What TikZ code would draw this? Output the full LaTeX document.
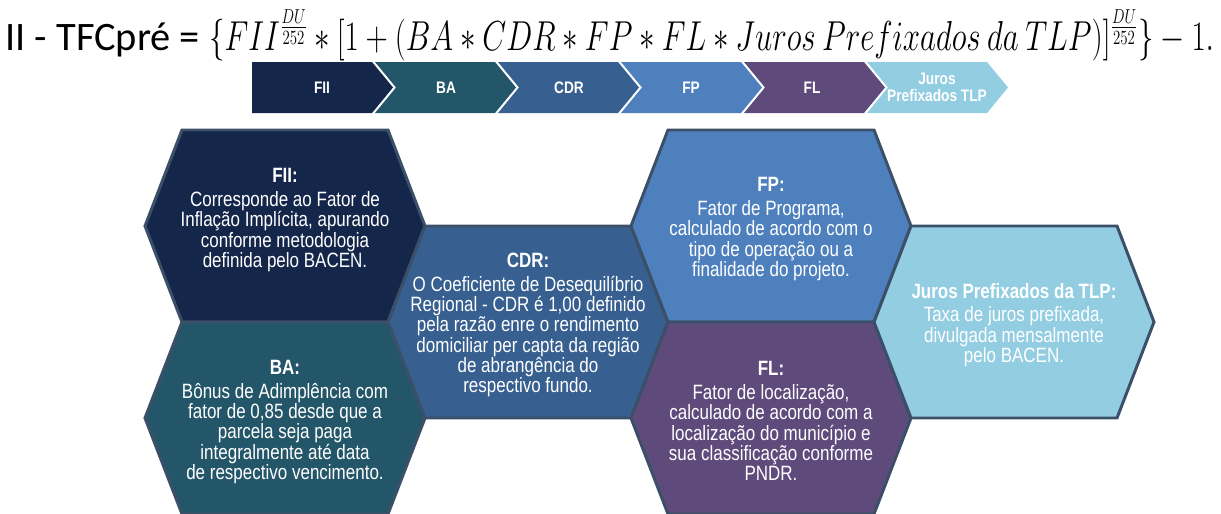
\documentclass[tikz,border=0pt]{standalone}
\usepackage{amsmath}
\usepackage[no-math]{fontspec}
\setmainfont{Liberation Sans}[FakeStretch=0.82]
\newfontfamily\calfont{Carlito}
\usepackage{graphicx}
\usepackage{xcolor}
\usepackage{tikz}

\definecolor{fiicol}{HTML}{14264A}
\definecolor{bacol}{HTML}{245669}
\definecolor{cdrcol}{HTML}{375F8F}
\definecolor{fpcol}{HTML}{4E80BE}
\definecolor{flcol}{HTML}{5F4A7C}
\definecolor{juroscol}{HTML}{92CDE2}
\definecolor{edgecol}{HTML}{3B5068}

\begin{document}
\begin{tikzpicture}[x=0.02cm, y=-0.02cm,
hexa/.style={draw=edgecol, line width=1.7pt},
chev/.style={draw=none},
txt/.style={align=center, text=white, inner sep=0, font=\fontsize{11.8}{11.6}\selectfont},
chevtxt/.style={align=center, text=white, inner sep=0, font=\bfseries\fontsize{9.5}{9.5}\selectfont}
]
\useasboundingbox (0,0) rectangle (1221,514);

\node[anchor=base west, inner sep=0] (formula) at (5,50) {\calfont\fontsize{23}{24}\selectfont II - TFCpré = \resizebox{572pt}{23pt}{$\{FII^{\frac{DU}{252}} \ast [1 + (BA \ast CDR \ast FP \ast FL \ast Juros\ Prefixados\ da\ TLP)]^{\frac{DU}{252}}\} - 1.$}};

\draw[chev, fill=fiicol] (252,62) -- ++(120,0) -- ++(21,25.5) -- ++(-21,25.5) -- ++(-120,0) -- cycle;
\draw[chev, fill=bacol] (375,62) -- ++(120,0) -- ++(21,25.5) -- ++(-21,25.5) -- ++(-120,0) -- ++(21,-25.5) -- cycle;
\draw[chev, fill=cdrcol] (498,62) -- ++(120,0) -- ++(21,25.5) -- ++(-21,25.5) -- ++(-120,0) -- ++(21,-25.5) -- cycle;
\draw[chev, fill=fpcol] (621,62) -- ++(120,0) -- ++(21,25.5) -- ++(-21,25.5) -- ++(-120,0) -- ++(21,-25.5) -- cycle;
\draw[chev, fill=flcol] (744,62) -- ++(120,0) -- ++(21,25.5) -- ++(-21,25.5) -- ++(-120,0) -- ++(21,-25.5) -- cycle;
\draw[chev, fill=juroscol] (867,62) -- ++(120,0) -- ++(21,25.5) -- ++(-21,25.5) -- ++(-120,0) -- ++(21,-25.5) -- cycle;

\node[chevtxt] (c1) at (322,87.5) {FII};
\node[chevtxt] (c2) at (446,87.5) {BA};
\node[chevtxt] (c3) at (569,87.5) {CDR};
\node[chevtxt] (c4) at (691,87.5) {FP};
\node[chevtxt] (c5) at (812,87.5) {FL};
\node[chevtxt] (c6) at (937,87.5) {Juros\\Prefixados TLP};

\draw[hexa, fill=fiicol] (285,226) ++(-103,-96) -- ++(206,0) -- ++(37,96) -- ++(-37,96) -- ++(-206,0) -- ++(-37,-96) -- cycle;
\draw[hexa, fill=bacol] (285,418) ++(-103,-96) -- ++(206,0) -- ++(37,96) -- ++(-37,96) -- ++(-206,0) -- ++(-37,-96) -- cycle;
\draw[hexa, fill=cdrcol] (528,322) ++(-103,-96) -- ++(206,0) -- ++(37,96) -- ++(-37,96) -- ++(-206,0) -- ++(-37,-96) -- cycle;
\draw[hexa, fill=fpcol] (771,226) ++(-103,-96) -- ++(206,0) -- ++(37,96) -- ++(-37,96) -- ++(-206,0) -- ++(-37,-96) -- cycle;
\draw[hexa, fill=flcol] (771,418) ++(-103,-96) -- ++(206,0) -- ++(37,96) -- ++(-37,96) -- ++(-206,0) -- ++(-37,-96) -- cycle;
\draw[hexa, fill=juroscol] (1014,322) ++(-103,-96) -- ++(206,0) -- ++(37,96) -- ++(-37,96) -- ++(-206,0) -- ++(-37,-96) -- cycle;

\node[txt] (fii) at (285,220) {\textbf{FII:}\\[2pt]Corresponde ao Fator de\\Inflação Implícita, apurando\\conforme metodologia\\definida pelo BACEN.};
\node[txt] (ba) at (285,422) {\textbf{BA:}\\[2pt]Bônus de Adimplência com\\fator de 0,85 desde que a\\parcela seja paga\\integralmente até data\\de respectivo vencimento.};
\node[txt] (cdr) at (528,325) {\textbf{CDR:}\\[2pt]O Coeficiente de Desequilíbrio\\Regional - CDR é 1,00 definido\\pela razão enre o rendimento\\domiciliar per capta da região\\de abrangência do\\respectivo fundo.};
\node[txt] (fp) at (771,229) {\textbf{FP:}\\[2pt]Fator de Programa,\\calculado de acordo com o\\tipo de operação ou a\\finalidade do projeto.};
\node[txt] (fl) at (771,421) {\textbf{FL:}\\[2pt]Fator de localização,\\calculado de acordo com a\\localização do município e\\sua classificação conforme\\PNDR.};
\node[txt] (juros) at (1014,325) {\textbf{Juros Prefixados da TLP:}\\[2pt]Taxa de juros prefixada,\\divulgada mensalmente\\pelo BACEN.};

\end{tikzpicture}
\end{document}
